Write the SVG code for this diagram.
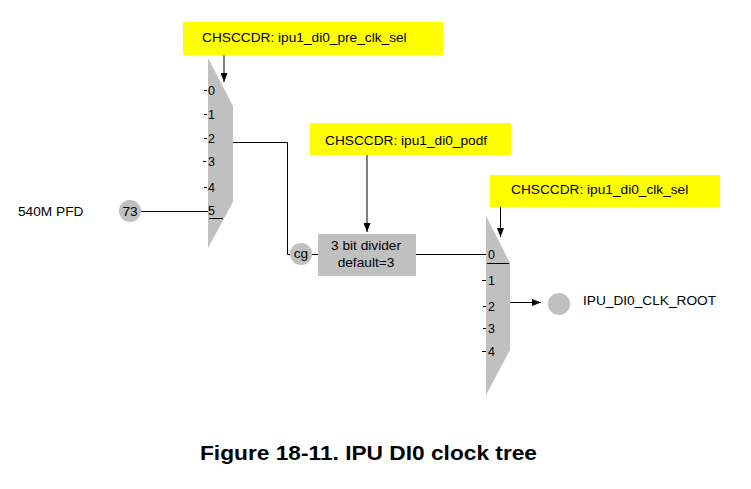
<svg xmlns="http://www.w3.org/2000/svg" width="751" height="489" viewBox="0 0 751 489">
<defs>
<marker id="ah" viewBox="0 0 10 10" refX="10" refY="5" markerWidth="9" markerHeight="7" markerUnits="userSpaceOnUse" orient="auto" preserveAspectRatio="none">
<path d="M0,0 L10,5 L0,10 z" fill="#000"/>
</marker>
</defs>
<style>
text{font-family:"Liberation Sans",Arial,sans-serif;fill:#000}
.lbl{font-size:13.7px}
.num{font-size:12.5px}
.reg{fill:#ffff00}
.gray{fill:#c0c0c0}
.ln{stroke:#000;stroke-width:1;fill:none}
.cap{font-size:21px;font-weight:bold}
</style>
<rect width="751" height="489" fill="#fff"/>
<g id="reg_pre_clk_sel">
<rect class="reg" x="183" y="22" width="260" height="33"/>
<text class="lbl" x="202" y="42">CHSCCDR: ipu1_di0_pre_clk_sel</text>
</g>
<g id="reg_podf">
<rect class="reg" x="310" y="123" width="201" height="32"/>
<text class="lbl" x="325" y="145">CHSCCDR: ipu1_di0_podf</text>
</g>
<g id="reg_clk_sel">
<rect class="reg" x="490" y="175" width="230" height="32"/>
<text class="lbl" x="511" y="194">CHSCCDR: ipu1_di0_clk_sel</text>
</g>
<g id="mux1">
<polygon class="gray" points="208,58 233,106 233,202 208,248"/>
<text class="num" x="208" y="95">0</text>
<text class="num" x="208" y="119">1</text>
<text class="num" x="208" y="143">2</text>
<text class="num" x="208" y="166">3</text>
<text class="num" x="208" y="192">4</text>
<text class="num" x="208" y="215">5</text>
<path class="ln" d="M204,90.5h3 M204,114.5h3 M204,138.5h3 M203,161.5h3 M204,187.5h3 M209,218.5h14"/>
</g>
<g id="src73">
<circle class="gray" cx="130" cy="211" r="11"/>
<text class="lbl" x="130" y="216" text-anchor="middle">73</text>
<text class="lbl" x="18" y="216">540M PFD</text>
</g>
<g id="cg">
<circle class="gray" cx="301" cy="254" r="11"/>
<text class="lbl" x="301" y="258" text-anchor="middle">cg</text>
</g>
<g id="divider">
<rect class="gray" x="318" y="234" width="98" height="42"/>
<text class="lbl" x="366" y="250" text-anchor="middle">3 bit divider</text>
<text class="lbl" x="366" y="267" text-anchor="middle">default=3</text>
</g>
<g id="mux2">
<polygon class="gray" points="486,216 510,263 510,350 486,395"/>
<text class="num" x="488" y="259">0</text>
<text class="num" x="488" y="285">1</text>
<text class="num" x="488" y="311">2</text>
<text class="num" x="488" y="333">3</text>
<text class="num" x="488" y="356">4</text>
<path class="ln" d="M482,280.5h4 M483,306.5h3 M483,328.5h3 M482,351.5h4 M487,263.5h22"/>
</g>
<g id="root">
<circle class="gray" cx="559" cy="304" r="11"/>
<text class="lbl" x="583" y="305">IPU_DI0_CLK_ROOT</text>
</g>
<g id="connectors">
<path class="ln" d="M224,55 V82" marker-end="url(#ah)"/>
<path class="ln" d="M367,155 V232" marker-end="url(#ah)"/>
<path class="ln" d="M500.5,207 V237" marker-end="url(#ah)"/>
<path class="ln" d="M141,211.5 H208"/>
<path class="ln" d="M233,142.5 H287.5 V254.5 H290"/>
<path class="ln" d="M312,254.5 H318"/>
<path class="ln" d="M416,254.5 H486"/>
<path class="ln" d="M510,302.5 H541" marker-end="url(#ah)"/>
</g>
<text class="cap" x="200" y="460" textLength="337" lengthAdjust="spacingAndGlyphs">Figure 18-11. IPU DI0 clock tree</text>
</svg>
